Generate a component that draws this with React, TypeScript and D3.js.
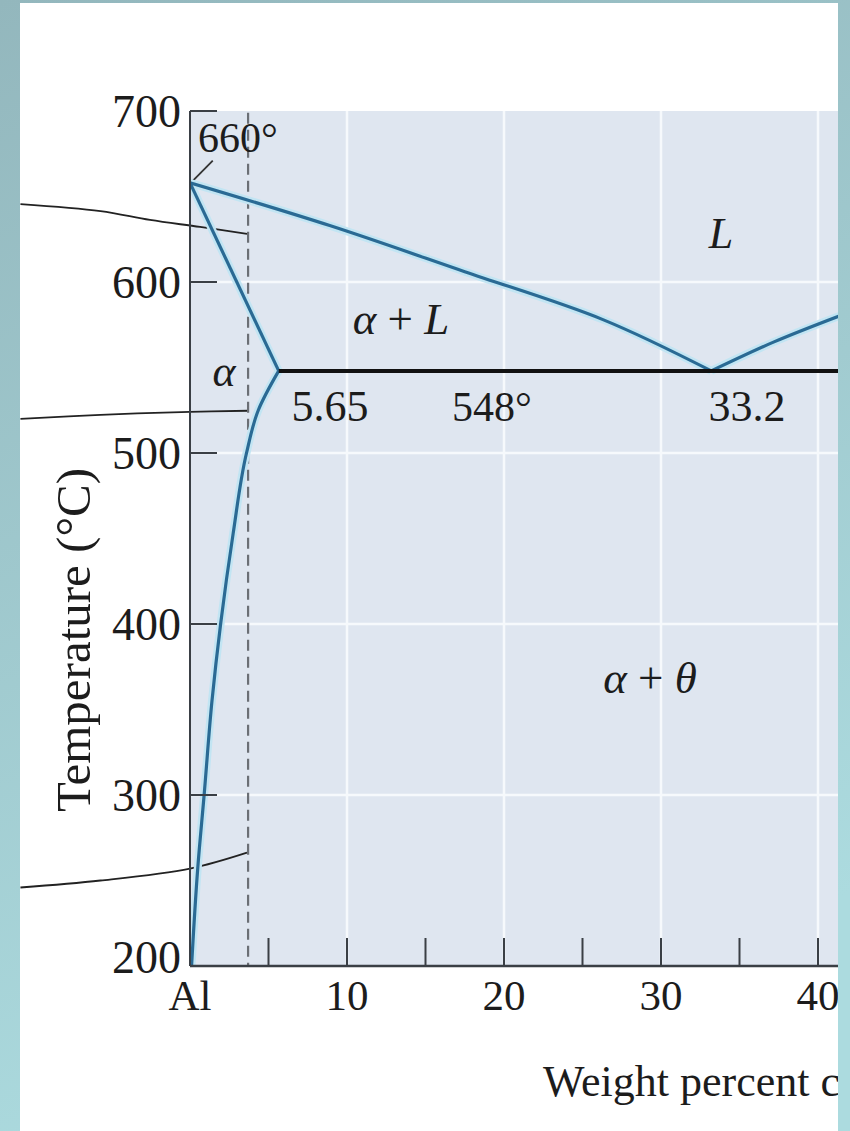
import React from "react";
import * as d3 from "d3";

// ---------- data (wt% Cu, temperature °C) ----------
const X_TICKS = [5, 10, 15, 20, 25, 30, 35, 40];
const X_LABELS = [
  { v: 0, t: "Al" },
  { v: 10, t: "10" },
  { v: 20, t: "20" },
  { v: 30, t: "30" },
  { v: 40, t: "40" },
];
const Y_TICKS = [200, 300, 400, 500, 600, 700];
const X_GRID = [10, 20, 30, 40];
const Y_GRID = [300, 400, 500, 600];

const liquidusLeft: [number, number][] = [
  [0, 658], [8.9, 633], [17.5, 606], [26.3, 578], [33.2, 548],
];
const liquidusRight: [number, number][] = [
  [33.2, 548], [37.2, 565], [41.6, 581],
];
const solidus: [number, number][] = [
  [0, 658], [5.65, 548],
];
const solvus: [number, number][] = [
  [5.65, 548], [4.35, 525], [3.6, 500], [2.75, 453], [1.95, 400],
  [1.4, 355], [0.9, 300], [0.5, 258], [0.1, 200],
];
const eutectic: [number, number][] = [
  [5.65, 548], [42, 548],
];
const composition = 3.7;
const leaderTop: [number, number][] = [
  [-10.8, 645.6], [-5.7, 641.5], [-2.55, 636.3], [0.64, 632.2], [3.63, 628.1],
];
const leaderMid: [number, number][] = [
  [-10.8, 520], [-5.7, 522.3], [0, 524.1], [3.7, 524.7],
];
const leaderBottom: [number, number][] = [
  [-10.8, 245.9], [-5.7, 250], [0, 257], [3.63, 266.3],
];
const leader660: [number, number][] = [
  [0.05, 658], [1.45, 671],
];

export default function App() {
  const W = 850, H = 1131;
  const x = d3.scaleLinear().domain([0, 40]).range([190, 818]);
  const y = d3.scaleLinear().domain([200, 700]).range([966, 111]);
  const plotRight = 838;
  const line = d3.line<[number, number]>().x((d) => x(d[0])).y((d) => y(d[1]));
  const smooth = d3
    .line<[number, number]>()
    .x((d) => x(d[0]))
    .y((d) => y(d[1]))
    .curve(d3.curveCatmullRom.alpha(0.5));
  const smoothY = d3
    .line<[number, number]>()
    .x((d) => x(d[0]))
    .y((d) => y(d[1]))
    .curve(d3.curveMonotoneY);

  const serif = "'Liberation Serif', 'DejaVu Serif', serif";
  const blue = "#2a6a94";
  const halo = "#c2e5f3";
  const axisCol = "#3a3f45";
  const ink = "#1c1c1c";

  const blueCurves = [
    smooth(liquidusLeft),
    smooth(liquidusRight),
    line(solidus),
    smoothY(solvus),
  ];

  return (
    <svg
      width={W}
      height={H}
      style={{ position: "absolute", left: 0, top: 0 }}
      fontFamily={serif}
    >
      <defs>
        <linearGradient id="teal" x1="0" y1="0" x2="0.3" y2="1">
          <stop offset="0" stopColor="#93b7bd" />
          <stop offset="1" stopColor="#acdbdf" />
        </linearGradient>
        <clipPath id="panel">
          <rect x={20} y={3} width={plotRight - 20} height={H - 3} />
        </clipPath>
        <clipPath id="plot">
          <rect x={x(0)} y={y(700)} width={plotRight - x(0)} height={y(200) - y(700)} />
        </clipPath>
      </defs>
      <rect x={0} y={0} width={W} height={H} fill="url(#teal)" />
      <rect x={20} y={3} width={plotRight - 20} height={H - 3} fill="#ffffff" />

      <g clipPath="url(#panel)">
        {/* plot background */}
        <rect
          x={x(0)}
          y={y(700)}
          width={plotRight - x(0)}
          height={y(200) - y(700)}
          fill="#dfe6f0"
        />
        {/* grid */}
        {X_GRID.map((v) => (
          <line key={"gx" + v} x1={x(v)} x2={x(v)} y1={y(700)} y2={y(200)} stroke="#f6f9fc" strokeWidth={2.5} />
        ))}
        {Y_GRID.map((v) => (
          <line key={"gy" + v} x1={x(0)} x2={plotRight} y1={y(v)} y2={y(v)} stroke="#f6f9fc" strokeWidth={2.5} />
        ))}

        {/* leader lines (extend outside the plot) */}
        {[leaderTop, leaderMid, leaderBottom].map((d, i) => (
          <path key={"ld" + i} d={smooth(d) || ""} fill="none" stroke="#222" strokeWidth={1.8} />
        ))}
        <path d={line(leader660) || ""} fill="none" stroke="#333" strokeWidth={1.8} />

        {/* composition dashed line */}
        <line
          x1={x(composition)}
          x2={x(composition)}
          y1={y(699)}
          y2={y(200)}
          stroke="#6b6f75"
          strokeWidth={2.2}
          strokeDasharray="11 6"
        />

        <g clipPath="url(#plot)">
          {blueCurves.map((d, i) => (
            <path key={"h" + i} d={d || ""} fill="none" stroke={halo} strokeWidth={8} strokeLinejoin="round" />
          ))}
          {blueCurves.map((d, i) => (
            <path key={"b" + i} d={d || ""} fill="none" stroke={blue} strokeWidth={3.2} strokeLinejoin="round" />
          ))}
          <path d={line(eutectic) || ""} fill="none" stroke="#111" strokeWidth={4} />
        </g>

        {/* axes */}
        <line x1={x(0)} x2={x(0)} y1={y(700)} y2={y(200)} stroke={axisCol} strokeWidth={2} />
        <line x1={x(0)} x2={plotRight} y1={y(200)} y2={y(200)} stroke={axisCol} strokeWidth={2.5} />
        {Y_TICKS.filter((v) => v > 200).map((v) => (
          <line key={"yt" + v} x1={x(0)} x2={x(0) + 27} y1={y(v)} y2={y(v)} stroke={axisCol} strokeWidth={2} />
        ))}
        {X_TICKS.map((v) => (
          <line key={"xt" + v} x1={x(v)} x2={x(v)} y1={y(200)} y2={y(200) - 28} stroke={axisCol} strokeWidth={2} />
        ))}

        {/* tick labels */}
        {Y_TICKS.map((v) => (
          <text
            key={"yl" + v}
            x={x(0) - 9}
            y={v === 200 ? y(v) - 9 : y(v)}
            dy="0.35em"
            textAnchor="end"
            fontSize={46}
            fill={ink}
          >
            {v}
          </text>
        ))}
        {X_LABELS.map((d) => (
          <text key={"xl" + d.v} x={x(d.v)} y={y(200) + 44} textAnchor="middle" fontSize={43} fill={ink}>
            {d.t}
          </text>
        ))}

        {/* axis titles */}
        <text x={543} y={1096} fontSize={44} fill={ink}>
          Weight percent copper
        </text>
        <text
          transform={`translate(90, 640) rotate(-90)`}
          textAnchor="middle"
          fontSize={49}
          fill={ink}
        >
          Temperature (°C)
        </text>

        {/* annotations */}
        <text x={238} y={152} textAnchor="middle" fontSize={42} fill={ink}>660°</text>
        <text x={721} y={248} textAnchor="middle" fontSize={44} fontStyle="italic" fill={ink}>L</text>
        <text x={401} y={334} textAnchor="middle" fontSize={45} fill={ink}>
          <tspan fontStyle="italic">α</tspan>
          <tspan> + </tspan>
          <tspan fontStyle="italic">L</tspan>
        </text>
        <text x={224} y={386} textAnchor="middle" fontSize={44} fontStyle="italic" fill={ink}>α</text>
        <text x={330} y={421} textAnchor="middle" fontSize={44} fill={ink}>5.65</text>
        <text x={492} y={421} textAnchor="middle" fontSize={42} fill={ink}>548°</text>
        <text x={747} y={421} textAnchor="middle" fontSize={44} fill={ink}>33.2</text>
        <text x={650} y={693} textAnchor="middle" fontSize={45} fill={ink}>
          <tspan fontStyle="italic">α</tspan>
          <tspan> + </tspan>
          <tspan fontStyle="italic">θ</tspan>
        </text>
      </g>
    </svg>
  );
}
